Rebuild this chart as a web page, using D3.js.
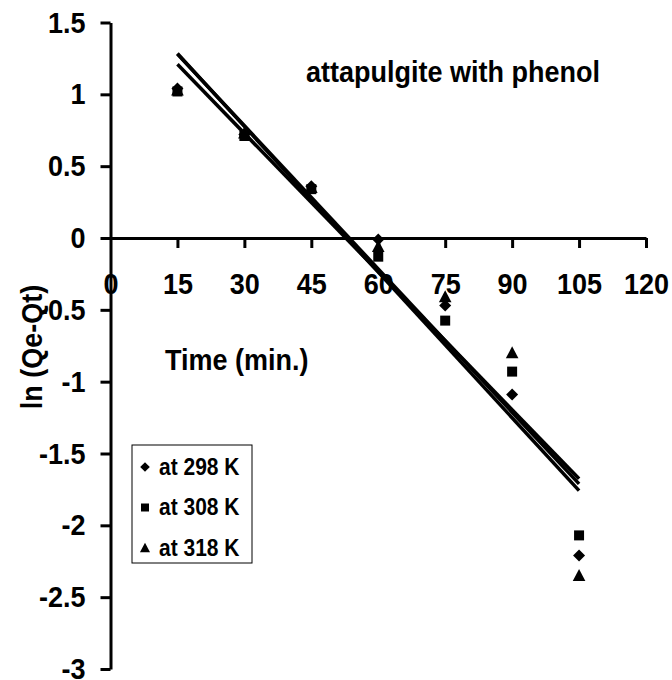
<!DOCTYPE html>
<html>
<head>
<meta charset="utf-8">
<script src="https://cdn.jsdelivr.net/npm/d3@7"></script>
<style>
  body { margin: 0; background: #fff; }
  .js-vis { width: 672px; height: 680px; }
  text { font-family: "Liberation Sans", Arial, sans-serif; font-weight: bold; fill: #000; }
</style>
</head>
<body>
<div class="js-vis"></div>
<script>
"use strict";

// time (min.) and ln(Qe-Qt)
var times = [15, 30, 45, 60, 75, 90, 105];
var lnQ298 = [1.04, 0.72, 0.36, -0.01, -0.47, -1.09, -2.21];
var lnQ308 = [1.02, 0.71, 0.34, -0.13, -0.575, -0.93, -2.07];
var lnQ318 = [1.03, 0.73, 0.35, -0.06, -0.41, -0.80, -2.35];
var seriesNames = ["at 298 K", "at 308 K", "at 318 K"];
var xTicks = [0, 15, 30, 45, 60, 75, 90, 105, 120];
var yTicks = [1.5, 1, 0.5, 0, -0.5, -1, -1.5, -2, -2.5, -3];

var el = d3.select(".js-vis"),
    ewidth = 672,
    eheight = 680;

var margin = { top: 22.5, right: 26, bottom: 11, left: 110.5 },
    width = ewidth - margin.left - margin.right,
    height = eheight - margin.top - margin.bottom;

var x = d3.scaleLinear().domain([0, 120]).range([0, width]);
var y = d3.scaleLinear().domain([-3, 1.5]).range([height, 0]);

var svg = el.append("svg").attr("width", ewidth).attr("height", eheight);
var vis = svg.append("g").attr("transform", "translate(" + margin.left + "," + margin.top + ")");

var stretch = 1.1; // the original text looks a bit taller than wide

// marker shapes (Excel style)
function diamond(r) { return "M0," + (-r) + "L" + r + ",0L0," + r + "L" + (-r) + ",0Z"; }
function square(r) { return "M" + (-r) + "," + (-r) + "H" + r + "V" + r + "H" + (-r) + "Z"; }
function triangle(r) { return "M0," + (-r * 1.1) + "L" + (r * 1.05) + "," + (r * 0.9) + "L" + (-r * 1.05) + "," + (r * 0.9) + "Z"; }

var series = [
  { name: seriesNames[0], values: lnQ298, shape: diamond, r: 6 },
  { name: seriesNames[1], values: lnQ308, shape: square, r: 5 },
  { name: seriesNames[2], values: lnQ318, shape: triangle, r: 6 }
];

// axes
var yax = d3.axisLeft(y).tickValues(yTicks).tickSize(10).tickSizeOuter(0).tickPadding(15)
  .tickFormat(function (d) { return String(d); });
var xax = d3.axisBottom(x).tickValues(xTicks).tickSize(10).tickSizeOuter(0).tickPadding(25)
  .tickFormat(function (d) { return String(d); });

var gx = vis.append("g").attr("transform", "translate(0," + y(0) + ")").call(xax);
var gy = vis.append("g").call(yax);

[gx, gy].forEach(function (g) {
  g.selectAll("path, line").attr("stroke", "#000").attr("stroke-width", 3);
  g.selectAll("text").attr("font-size", 27).attr("font-family", null).attr("fill", "#000")
    .each(function () {
      var t = d3.select(this),
          tx = +t.attr("x") || 0,
          ty = +t.attr("y") || 0;
      t.attr("x", 0).attr("y", 0)
        .attr("transform", "translate(" + tx + "," + ty + ") scale(1," + stretch + ")");
    });
});
gx.selectAll(".tick").filter(function (d) { return d === 0; }).select("line").remove();

// points
series.forEach(function (s) {
  vis.append("g").selectAll("path").data(s.values).enter().append("path")
    .attr("transform", function (d, i) { return "translate(" + x(times[i]) + "," + y(d) + ")"; })
    .attr("d", s.shape(s.r))
    .attr("fill", "#000");
});

// linear trendlines
series.forEach(function (s) {
  var mx = d3.mean(times), my = d3.mean(s.values);
  var sxy = d3.sum(times, function (t, i) { return (t - mx) * (s.values[i] - my); });
  var sxx = d3.sum(times, function (t) { return (t - mx) * (t - mx); });
  var b = sxy / sxx, a = my - b * mx;
  vis.append("path")
    .datum(d3.extent(times))
    .attr("d", d3.line().x(function (t) { return x(t); }).y(function (t) { return y(a + b * t); }))
    .attr("fill", "none").attr("stroke", "#000").attr("stroke-width", 3.5);
});

// labels
function label(tx, ty, size, str, rot) {
  return svg.append("text")
    .attr("transform", "translate(" + tx + "," + ty + ")" + (rot ? " rotate(" + rot + ")" : "") + " scale(1," + stretch + ")")
    .attr("font-size", size).text(str);
}
label(306, 82, 27, "attapulgite with phenol");
label(165, 370, 27, "Time (min.)");
label(42, 347, 27, "ln (Qe-Qt)", -90).attr("text-anchor", "middle");

// legend
var leg = svg.append("g").attr("transform", "translate(132,445)");
leg.append("rect").attr("x", 0).attr("y", 0).attr("width", 120).attr("height", 118)
  .attr("fill", "#fff").attr("stroke", "#000").attr("stroke-width", 1);
var rows = leg.selectAll(".row").data(series).enter().append("g")
  .attr("transform", function (d, i) { return "translate(0," + (22 + i * 40.5) + ")"; });
rows.append("path").attr("transform", "translate(13,0)")
  .attr("d", function (d) { return d.shape(d.r * 0.8); }).attr("fill", "#000");
rows.append("text").attr("transform", "translate(27,7.5) scale(1," + stretch + ")")
  .attr("font-size", 21).text(function (d) { return d.name; });
</script>
</body>
</html>
